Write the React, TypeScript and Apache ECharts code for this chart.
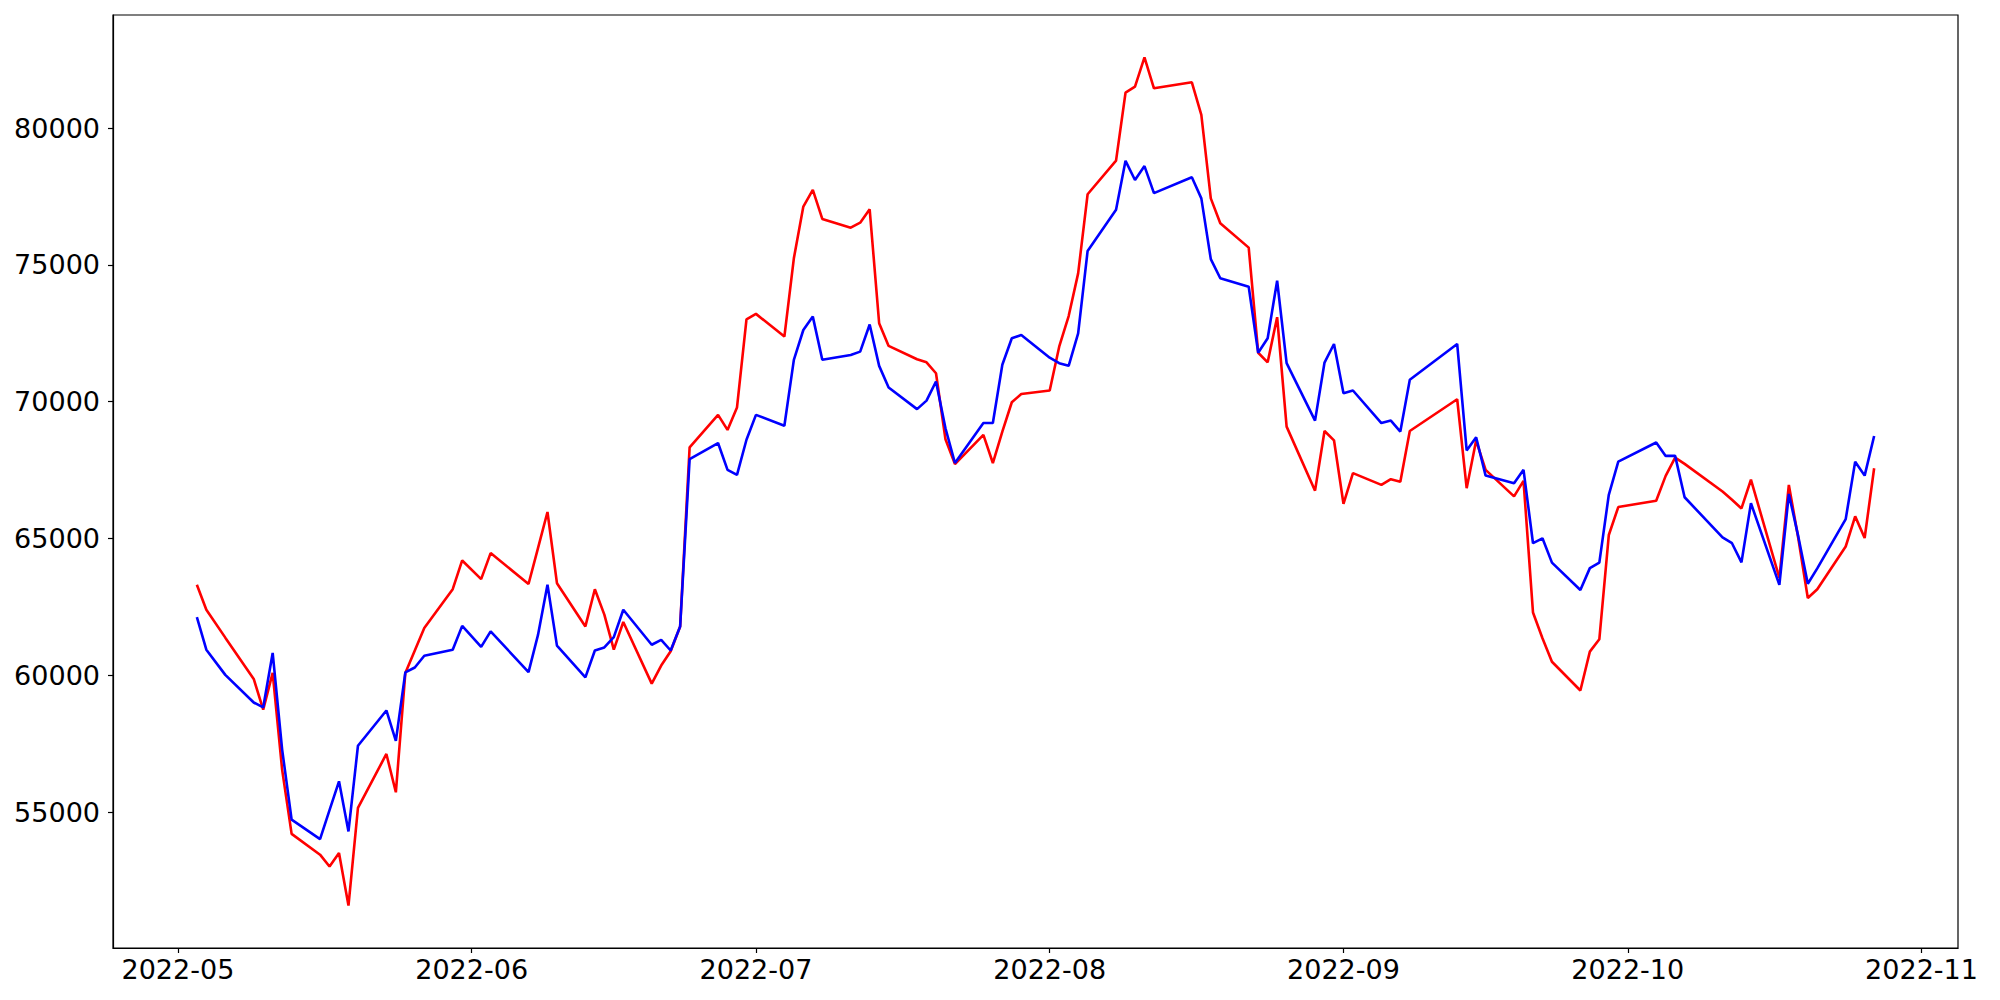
import React, { useEffect, useRef } from "react";
import * as echarts from "echarts";

// Trading days (2022)
const mayDays = [3, 4, 6, 9, 10, 11, 12, 13, 16, 17, 18, 19, 20, 23, 24, 25, 26, 27, 30, 31];
const junDays = [2, 3, 7, 8, 9, 10, 13, 14, 15, 16, 17, 20, 21, 22, 23, 24, 27, 28, 29, 30];
const julDays = [1, 4, 5, 6, 7, 8, 11, 12, 13, 14, 15, 18, 19, 20, 21, 22, 25, 26, 27, 28, 29];
const augDays = [1, 2, 3, 4, 5, 8, 9, 10, 11, 12, 16, 17, 18, 19, 22, 23, 24, 25, 26, 29, 30, 31];
const sepDays = [1, 2, 5, 6, 7, 8, 13, 14, 15, 16, 19, 20, 21, 22, 23, 26, 27, 28, 29, 30];
const octDays = [4, 5, 6, 7, 11, 12, 13, 14, 17, 18, 19, 20, 21, 24, 25, 26, 27];

const redSeries = [
  // May
  63310, 62400, 61380, 59870, 58750, 60090, 56550, 54210, 53450, 53020, 53510, 51590, 55160, 57130, 55730, 60090, 60910, 61730, 63150, 64200,
  // Jun
  63520, 64470, 63340, 64650, 65970, 63370, 61790, 63150, 62220, 60940, 61950, 59700, 60360, 60880, 61790, 68330, 69520, 68970, 69790, 73010,
  // Jul
  73210, 72380, 75240, 77130, 77740, 76680, 76360, 76540, 77030, 72870, 72040, 71550, 71440, 71040, 68630, 67720, 68790, 67760, 68910, 69980, 70280,
  // Aug
  70410, 72010, 73130, 74690, 77580, 78810, 81290, 81510, 82580, 81450, 81670, 80480, 77430, 76520, 75630, 71790, 71440, 73090, 69090, 66750, 68930, 68590,
  // Sep
  66270, 67390, 66960, 67170, 67080, 68930, 70090, 66840, 68580, 67510, 66540, 67110, 62300, 61360, 60500, 59450, 60870, 61320, 65130, 66150,
  // Oct
  66380, 67290, 67960, 67730, 66720, 66420, 66100, 67150, 63560, 66960, 65000, 62830, 63150, 64710, 65810, 65020, 67570,
];

const blueSeries = [
  // May
  62130, 60940, 60020, 59010, 58830, 60820, 57290, 54730, 54020, 55080, 56130, 54300, 57430, 58720, 57610, 60110, 60290, 60720, 60940, 61810,
  // Jun
  61040, 61610, 60120, 61480, 63310, 61090, 59930, 60910, 61020, 61400, 62400, 61120, 61300, 60910, 61790, 67900, 68490, 67510, 67330, 68610,
  // Jul
  69520, 69120, 71530, 72620, 73110, 71530, 71710, 71830, 72820, 71310, 70520, 69730, 70040, 70740, 69030, 67760, 69220, 69220, 71350, 72320, 72440,
  // Aug
  71610, 71410, 71310, 72500, 75510, 77010, 78800, 78100, 78610, 77620, 78200, 77430, 75210, 74510, 74200, 71790, 72320, 74420, 71410, 69310, 71430, 72110,
  // Sep
  70310, 70410, 69220, 69310, 68910, 70800, 72110, 68220, 68700, 67300, 67020, 67510, 64830, 65010, 64120, 63120, 63920, 64120, 66600, 67810,
  // Oct
  68510, 68020, 68020, 66510, 65040, 64830, 64130, 66290, 63310, 66630, 65070, 63350, 63910, 65710, 67810, 67300, 68750,
];

const yTickValues = [55000, 60000, 65000, 70000, 75000, 80000];
const xTickMonths = [[2022, 4], [2022, 5], [2022, 6], [2022, 7], [2022, 8], [2022, 9], [2022, 10]];

function buildDates(): number[] {
  const months: [number, number[]][] = [
    [4, mayDays], [5, junDays], [6, julDays], [7, augDays], [8, sepDays], [9, octDays],
  ];
  const out: number[] = [];
  months.forEach(([m, days]) => days.forEach((d) => out.push(new Date(2022, m, d).getTime())));
  return out;
}

export default function App() {
  const ref = useRef<HTMLDivElement>(null);
  useEffect(() => {
    if (!ref.current) return;
    const chart = echarts.init(ref.current, undefined, { renderer: "svg" });
    const dates = buildDates();
    const red = dates.map((t, i) => [t, redSeries[i]]);
    const blue = dates.map((t, i) => [t, blueSeries[i]]);

    const tMin = dates[0];
    const tMax = dates[dates.length - 1];
    const tPad = (tMax - tMin) * 0.05;
    const all = redSeries.concat(blueSeries);
    const vMin = Math.min(...all);
    const vMax = Math.max(...all);
    const vPad = (vMax - vMin) * 0.05;

    const xTicks = xTickMonths.map(([y, m]) => new Date(y, m, 1).getTime());
    const font = { fontFamily: "DejaVu Sans", fontSize: 27, color: "#000" };

    chart.setOption({
      animation: false,
      backgroundColor: "#fff",
      grid: {
        left: 113,
        right: 42,
        top: 15,
        bottom: 52,
        show: true,
        borderColor: "#000",
        borderWidth: 1.2,
        backgroundColor: "transparent",
      },
      xAxis: {
        type: "value",
        min: tMin - tPad,
        max: tMax + tPad,
        axisLine: { show: true, onZero: false, lineStyle: { color: "#000", width: 1.2 } },
        axisTick: { show: true, length: 5, lineStyle: { color: "#000", width: 1.2 }, customValues: xTicks },
        axisLabel: {
          ...font,
          margin: 8,
          customValues: xTicks,
          formatter: (v: number) => {
            const d = new Date(v);
            const mm = String(d.getMonth() + 1).padStart(2, "0");
            return `${d.getFullYear()}-${mm}`;
          },
        },
        splitLine: { show: false },
      },
      yAxis: {
        type: "value",
        min: vMin - vPad,
        max: vMax + vPad,
        axisLine: { show: true, onZero: false, lineStyle: { color: "#000", width: 1.2 } },
        axisTick: { show: true, length: 5, lineStyle: { color: "#000", width: 1.2 }, customValues: yTickValues },
        axisLabel: { ...font, margin: 13, customValues: yTickValues, formatter: (v: number) => String(Math.round(v)) },
        splitLine: { show: false },
      },
      series: [
        {
          type: "line",
          data: red,
          symbol: "none",
          lineStyle: { color: "#ff0000", width: 2.6 },
          itemStyle: { color: "#ff0000" },
        },
        {
          type: "line",
          data: blue,
          symbol: "none",
          lineStyle: { color: "#0000ff", width: 2.6 },
          itemStyle: { color: "#0000ff" },
        },
      ],
    });
    return () => chart.dispose();
  }, []);

  return (
    <div
      ref={ref}
      style={{ position: "absolute", left: 0, top: 0, width: 2000, height: 1000, background: "#fff" }}
    />
  );
}
